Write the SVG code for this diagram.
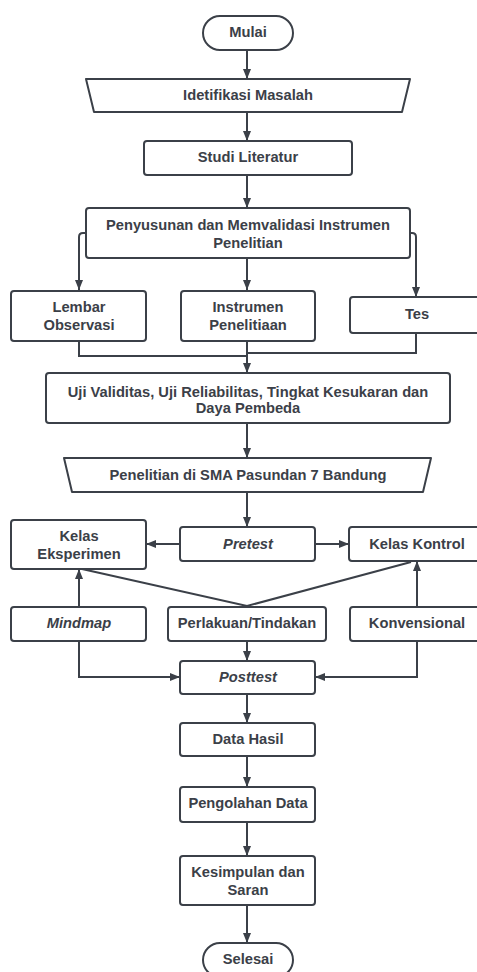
<svg xmlns="http://www.w3.org/2000/svg" width="477" height="972" viewBox="0 0 477 972">
<style>
.n{fill:#fff;stroke:#3b4048;stroke-width:2}
.t{font-family:"Liberation Sans",Arial,sans-serif;font-weight:bold;font-size:14.7px;fill:#3b4048;text-anchor:middle;dominant-baseline:central}
.i{font-style:italic}
.c{fill:none;stroke:#3b4048;stroke-width:2}
</style>
<defs>
<marker id="a" markerUnits="userSpaceOnUse" markerWidth="10" markerHeight="10" viewBox="0 0 10 10" refX="10" refY="5" orient="auto"><path d="M0,1 L10,5 L0,9 Z" fill="#3b4048"/></marker>
</defs>
<rect width="477" height="972" fill="#fff"/>
<g id="connectors">
<path class="c" d="M247,50 V79" marker-end="url(#a)"/>
<path class="c" d="M247,112 V141" marker-end="url(#a)"/>
<path class="c" d="M247,175 V208" marker-end="url(#a)"/>
<path class="c" d="M86,233 H83 Q79,233 79,237 V290" marker-end="url(#a)"/>
<path class="c" d="M247,258 V290" marker-end="url(#a)"/>
<path class="c" d="M410,233 H412 Q416,233 416,237 V297" marker-end="url(#a)"/>
<path class="c" d="M79,341 V356 H247"/>
<path class="c" d="M416,333 V353 H247"/>
<path class="c" d="M247,341 V373" marker-end="url(#a)"/>
<path class="c" d="M247,423 V458" marker-end="url(#a)"/>
<path class="c" d="M247,492 V527" marker-end="url(#a)"/>
<path class="c" d="M180,544 H146" marker-end="url(#a)"/>
<path class="c" d="M315,544 H349" marker-end="url(#a)"/>
<path class="c" d="M82,569 L247,606 L411,562"/>
<path class="c" d="M79,607 V569" marker-end="url(#a)"/>
<path class="c" d="M417,607 V561" marker-end="url(#a)"/>
<path class="c" d="M247,641 V661" marker-end="url(#a)"/>
<path class="c" d="M79,641 V677 H180" marker-end="url(#a)"/>
<path class="c" d="M417,641 V677 H315" marker-end="url(#a)"/>
<path class="c" d="M247,694 V723" marker-end="url(#a)"/>
<path class="c" d="M247,756 V787" marker-end="url(#a)"/>
<path class="c" d="M247,822 V856" marker-end="url(#a)"/>
<path class="c" d="M247,905 V943" marker-end="url(#a)"/>
</g>
<g id="mulai"><rect class="n" x="203" y="16" width="90" height="34" rx="17"/><text class="t" x="248" y="32">Mulai</text></g>
<g id="idetifikasi"><path class="n" d="M86,79 H410 L402,112 H94 Z" stroke-linejoin="round"/><text class="t" x="248" y="95">Idetifikasi Masalah</text></g>
<g id="studi"><rect class="n" x="144" y="141" width="208" height="34" rx="3"/><text class="t" x="248" y="157">Studi Literatur</text></g>
<g id="penyusunan"><rect class="n" x="86" y="208" width="324" height="50" rx="3"/><text class="t" x="248" y="225">Penyusunan dan Memvalidasi Instrumen</text><text class="t" x="248" y="243">Penelitian</text></g>
<g id="lembar"><rect class="n" x="11" y="291" width="135" height="50" rx="3"/><text class="t" x="79" y="307">Lembar</text><text class="t" x="79" y="325">Observasi</text></g>
<g id="instrumen"><rect class="n" x="181" y="291" width="134" height="50" rx="3"/><text class="t" x="248" y="307">Instrumen</text><text class="t" x="248" y="325">Penelitiaan</text></g>
<g id="tes"><rect class="n" x="350" y="297" width="135" height="36" rx="3"/><text class="t" x="417" y="314">Tes</text></g>
<g id="uji"><rect class="n" x="46" y="373" width="404" height="50" rx="3"/><text class="t" x="248" y="392">Uji Validitas, Uji Reliabilitas, Tingkat Kesukaran dan</text><text class="t" x="248" y="408">Daya Pembeda</text></g>
<g id="penelitian"><path class="n" d="M64,458 H431 L423,492 H72 Z" stroke-linejoin="round"/><text class="t" x="248" y="475">Penelitian di SMA Pasundan 7 Bandung</text></g>
<g id="pretest"><rect class="n" x="180" y="527" width="135" height="34" rx="3"/><text class="t i" x="248" y="544">Pretest</text></g>
<g id="eksperimen"><rect class="n" x="11" y="520" width="135" height="49" rx="3"/><text class="t" x="79" y="536">Kelas</text><text class="t" x="79" y="554">Eksperimen</text></g>
<g id="kontrol"><rect class="n" x="349" y="527" width="136" height="34" rx="3"/><text class="t" x="417" y="544">Kelas Kontrol</text></g>
<g id="mindmap"><rect class="n" x="11" y="607" width="135" height="34" rx="3"/><text class="t i" x="79" y="623">Mindmap</text></g>
<g id="perlakuan"><rect class="n" x="168" y="607" width="158" height="34" rx="3"/><text class="t" x="247" y="623">Perlakuan/Tindakan</text></g>
<g id="konvensional"><rect class="n" x="350" y="607" width="135" height="34" rx="3"/><text class="t" x="417" y="623">Konvensional</text></g>
<g id="posttest"><rect class="n" x="180" y="661" width="135" height="33" rx="3"/><text class="t i" x="248" y="677">Posttest</text></g>
<g id="datahasil"><rect class="n" x="180" y="723" width="135" height="33" rx="3"/><text class="t" x="248" y="739">Data Hasil</text></g>
<g id="pengolahan"><rect class="n" x="180" y="787" width="135" height="35" rx="3"/><text class="t" x="248" y="803">Pengolahan Data</text></g>
<g id="kesimpulan"><rect class="n" x="180" y="856" width="135" height="49" rx="3"/><text class="t" x="248" y="872">Kesimpulan dan</text><text class="t" x="248" y="890">Saran</text></g>
<g id="selesai"><rect class="n" x="203" y="943" width="90" height="34" rx="17"/><text class="t" x="248" y="959">Selesai</text></g>
</svg>
